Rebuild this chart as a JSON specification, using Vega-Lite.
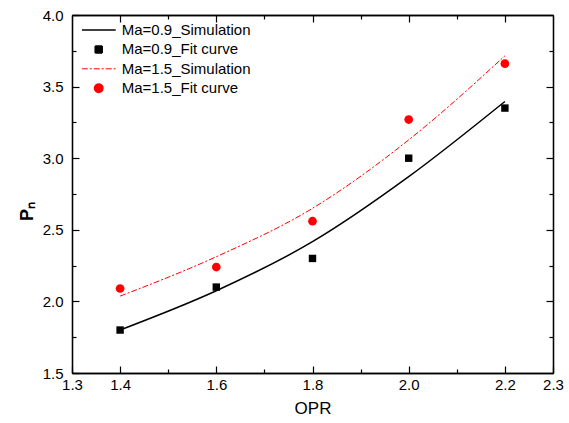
{
  "$schema": "https://vega.github.io/schema/vega-lite/v6.json",
  "width": 481,
  "height": 358,
  "autosize": {"type": "none"},
  "padding": {"left": 72, "top": 15, "right": 16, "bottom": 50},
  "config": {
    "font": "Liberation Sans",
    "view": {"stroke": null},
    "axis": {
      "domainColor": "black", "domainWidth": 1.3, "tickColor": "black", "tickWidth": 1.2,
      "labelColor": "black", "labelFontSize": 15, "titleColor": "black", "grid": false,
      "labelFont": "Liberation Sans", "titleFont": "Liberation Sans", "labelFlush": false, "labelOverlap": false
    }
  },
  "data": {"values": [
    {"opr": 1.4, "pn": 1.80, "series": "Ma=0.9_Simulation"},
    {"opr": 1.6, "pn": 2.074, "series": "Ma=0.9_Simulation"},
    {"opr": 1.8, "pn": 2.417, "series": "Ma=0.9_Simulation"},
    {"opr": 2.0, "pn": 2.871, "series": "Ma=0.9_Simulation"},
    {"opr": 2.2, "pn": 3.396, "series": "Ma=0.9_Simulation"},
    {"opr": 1.4, "pn": 1.80, "series": "Ma=0.9_Fit curve"},
    {"opr": 1.6, "pn": 2.10, "series": "Ma=0.9_Fit curve"},
    {"opr": 1.8, "pn": 2.30, "series": "Ma=0.9_Fit curve"},
    {"opr": 2.0, "pn": 3.00, "series": "Ma=0.9_Fit curve"},
    {"opr": 2.2, "pn": 3.35, "series": "Ma=0.9_Fit curve"},
    {"opr": 1.4, "pn": 2.037, "series": "Ma=1.5_Simulation"},
    {"opr": 1.6, "pn": 2.312, "series": "Ma=1.5_Simulation"},
    {"opr": 1.8, "pn": 2.650, "series": "Ma=1.5_Simulation"},
    {"opr": 2.0, "pn": 3.128, "series": "Ma=1.5_Simulation"},
    {"opr": 2.2, "pn": 3.715, "series": "Ma=1.5_Simulation"},
    {"opr": 1.4, "pn": 2.09, "series": "Ma=1.5_Fit curve"},
    {"opr": 1.6, "pn": 2.24, "series": "Ma=1.5_Fit curve"},
    {"opr": 1.8, "pn": 2.56, "series": "Ma=1.5_Fit curve"},
    {"opr": 2.0, "pn": 3.27, "series": "Ma=1.5_Fit curve"},
    {"opr": 2.2, "pn": 3.66, "series": "Ma=1.5_Fit curve"}
  ]},
  "resolve": {"axis": {"x": "independent", "y": "independent"}},
  "layer": [
    {
      "transform": [{"filter": "datum.series === 'Ma=0.9_Simulation'"}],
      "mark": {"type": "line", "interpolate": "monotone", "strokeWidth": 1.5},
      "encoding": {
        "x": {"field": "opr", "type": "quantitative", "scale": {"domain": [1.3, 2.3], "nice": false, "zero": false},
          "axis": {"orient": "bottom", "values": [1.3, 1.4, 1.6, 1.8, 2.0, 2.2, 2.3], "format": ".1f", "tickSize": -7, "labelPadding": 11,
            "title": "OPR", "titleFontSize": 17, "titleFontWeight": "normal", "titlePadding": 8}},
        "y": {"field": "pn", "type": "quantitative", "scale": {"domain": [1.5, 4.0], "nice": false, "zero": false},
          "axis": {"orient": "left", "values": [1.5, 2.0, 2.5, 3.0, 3.5, 4.0], "format": ".1f", "tickSize": -7, "labelPadding": 16,
            "title": "Pₙ", "titleFontSize": 18, "titleFontWeight": "bold", "titlePadding": 6, "titleY": 196}},
        "color": {"field": "series", "type": "nominal",
          "scale": {"domain": ["Ma=0.9_Simulation", "Ma=0.9_Fit curve", "Ma=1.5_Simulation", "Ma=1.5_Fit curve"], "range": ["black", "black", "red", "red"]},
          "legend": {
            "orient": "none", "legendX": 9.7, "legendY": 5.5, "title": null, "padding": 0,
            "symbolSize": 1156, "symbolStrokeWidth": 1.5, "clipHeight": 19, "rowPadding": 0.4,
            "symbolOffset": 9.5, "labelOffset": 15.5,
            "labelFontSize": 15, "labelColor": "black", "labelFont": "Liberation Sans", "labelLimit": 300,
            "encode": {"symbols": {"update": {
              "shape": {"signal": "datum.value === 'Ma=0.9_Fit curve' ? 'square' : datum.value === 'Ma=1.5_Fit curve' ? 'circle' : 'stroke'"},
              "size": {"signal": "datum.value === 'Ma=0.9_Fit curve' ? 49 : datum.value === 'Ma=1.5_Fit curve' ? 70 : 1156"},
              "fill": {"signal": "datum.value === 'Ma=0.9_Fit curve' ? 'black' : datum.value === 'Ma=1.5_Fit curve' ? 'red' : 'transparent'"},
              "stroke": {"signal": "datum.value === 'Ma=0.9_Simulation' ? 'black' : datum.value === 'Ma=1.5_Simulation' ? 'red' : 'transparent'"},
              "strokeDash": {"signal": "datum.value === 'Ma=1.5_Simulation' ? [6, 2, 2, 2] : [1, 0]"},
              "strokeWidth": {"signal": "datum.value === 'Ma=1.5_Simulation' ? 1 : 1.5"},
              "opacity": {"value": 1}
            }}}
          }}
      }
    },
    {
      "transform": [{"filter": "datum.series === 'Ma=1.5_Simulation'"}],
      "mark": {"type": "line", "interpolate": "monotone", "strokeWidth": 1, "strokeDash": [6, 2, 2, 2]},
      "encoding": {
        "x": {"field": "opr", "type": "quantitative",
          "axis": {"orient": "bottom", "values": [1.5, 1.7, 1.9, 2.1], "labels": false, "tickSize": -4, "title": null}},
        "y": {"field": "pn", "type": "quantitative",
          "axis": {"orient": "left", "values": [1.75, 2.25, 2.75, 3.25, 3.75], "labels": false, "tickSize": -4, "title": null}},
        "color": {"field": "series", "type": "nominal"}
      }
    },
    {
      "transform": [{"filter": "datum.series === 'Ma=0.9_Fit curve'"}],
      "mark": {"type": "point", "shape": "square", "filled": true, "size": 55, "opacity": 1},
      "encoding": {
        "x": {"field": "opr", "type": "quantitative",
          "axis": {"orient": "top", "values": [1.4, 1.6, 1.8, 2.0, 2.2], "labels": false, "tickSize": -7, "title": null}},
        "y": {"field": "pn", "type": "quantitative",
          "axis": {"orient": "right", "values": [2.0, 2.5, 3.0, 3.5], "labels": false, "tickSize": -7, "title": null}},
        "color": {"field": "series", "type": "nominal"}
      }
    },
    {
      "transform": [{"filter": "datum.series === 'Ma=1.5_Fit curve'"}],
      "mark": {"type": "point", "shape": "circle", "filled": true, "size": 76, "opacity": 1},
      "encoding": {
        "x": {"field": "opr", "type": "quantitative",
          "axis": {"orient": "top", "values": [1.5, 1.7, 1.9, 2.1], "labels": false, "tickSize": -4, "title": null}},
        "y": {"field": "pn", "type": "quantitative",
          "axis": {"orient": "right", "values": [1.75, 2.25, 2.75, 3.25, 3.75], "labels": false, "tickSize": -4, "title": null}},
        "color": {"field": "series", "type": "nominal"}
      }
    }
  ]
}
